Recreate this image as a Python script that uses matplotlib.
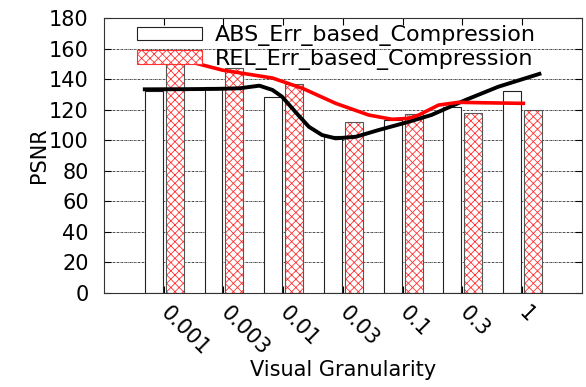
import numpy as np
import matplotlib
matplotlib.use("Agg")
import matplotlib.pyplot as plt
from matplotlib.patches import Patch

plt.rcParams['font.family'] = ['DejaVu Sans']
plt.rcParams['hatch.linewidth'] = 0.6

# datos
granularidad = ['0.001', '0.003', '0.01', '0.03', '0.1', '0.3', '1']
psnr_abs = [132, 135, 128, 103, 113, 122, 132]
psnr_rel = [155, 147, 137, 112, 117, 118, 120]

# curvas suavizadas (x en unidades de categoria)
curva_abs_x = [-0.35, 0.3, 0.9, 1.27, 1.6, 1.82, 1.98, 2.22, 2.43, 2.65, 2.88,
               3.22, 3.6, 4.05, 4.48, 5.05, 5.6, 6.32]
curva_abs_y = [133.3, 133.4, 133.6, 134.0, 135.7, 132.9, 128.5, 117.8, 108.8,
               103.4, 101.2, 102.3, 106.7, 111.5, 116.5, 126.3, 135.0, 143.8]
curva_rel_x = [0.18, 0.98, 1.82, 2.32, 2.88, 3.43, 3.82, 4.1, 4.27, 4.6, 4.93,
               5.38, 6.05]
curva_rel_y = [154.0, 145.9, 140.7, 134.0, 124.1, 116.5, 113.7, 114.3, 116.5,
               123.0, 124.8, 124.5, 124.1]

x = np.arange(len(granularidad))
ancho = 0.3

fig = plt.figure(figsize=(5.86, 3.87), dpi=100)
ax = fig.add_axes([0.1775, 0.2429, 0.8155, 0.7106])

ax.bar(x - 0.167, psnr_abs, ancho, color='white', edgecolor='#222222',
       linewidth=0.8, zorder=2)
# relleno rayado rojo y luego el borde gris
ax.bar(x + 0.183, psnr_rel, ancho, color='white', edgecolor='#ff3030',
       linewidth=0, hatch='xxxx', zorder=2)
ax.bar(x + 0.183, psnr_rel, ancho, fill=False, edgecolor='#555555',
       linewidth=0.8, zorder=2)

ax.plot(curva_abs_x, curva_abs_y, color='black', lw=2.8, zorder=3,
        solid_capstyle='butt', solid_joinstyle='round')
ax.plot(curva_rel_x, curva_rel_y, color='red', lw=2.6, zorder=3,
        solid_capstyle='butt', solid_joinstyle='round')

ax.set_xlim(-1, 7)
ax.set_ylim(0, 180)
ax.set_yticks(range(0, 181, 20))
ax.set_xticks(x)
ax.set_xticklabels(granularidad, rotation=-45, ha='left', va='center',
                   rotation_mode='anchor', fontsize=14)
ax.tick_params(direction='in', length=5, top=True, right=True,
               labelsize=15, width=0.8)
ax.tick_params(axis='x', pad=12)
ax.tick_params(axis='y', pad=11)
ax.yaxis.grid(True, color='black', linestyle=(0, (3, 1, 1, 1)), lw=0.5,
              zorder=0)
ax.set_axisbelow(True)
for s in ax.spines.values():
    s.set_linewidth(0.8)
    s.set_color('#333333')

ax.set_xlabel('Visual Granularity', fontsize=15, labelpad=1)
ax.set_ylabel('PSNR', fontsize=15, labelpad=0)

handles = [Patch(facecolor='white', edgecolor='#222222', linewidth=0.8),
           Patch(facecolor='white', edgecolor='#ff3030', hatch='xxxx',
                 linewidth=0.8)]
ax.legend(handles, ['ABS_Err_based_Compression', 'REL_Err_based_Compression'],
          loc='upper left', bbox_to_anchor=(0.037, 1.03), frameon=False,
          fontsize=16, handlelength=2.9, handleheight=0.55,
          labelspacing=0.12, handletextpad=0.6, borderaxespad=0.3)

fig.savefig('out.png', dpi=100)
